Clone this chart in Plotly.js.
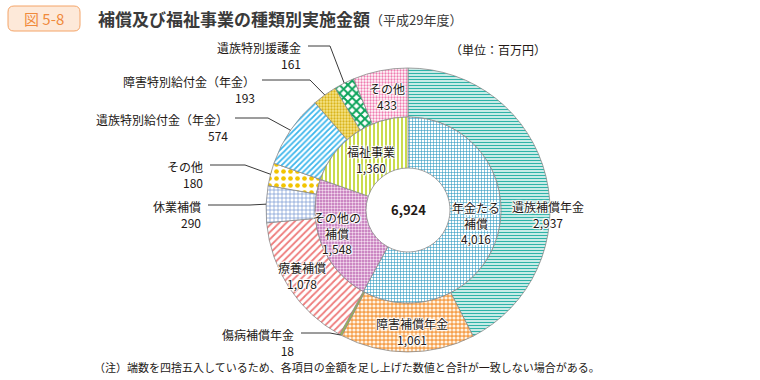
<!DOCTYPE html>
<html><head><meta charset="utf-8">
<script src="https://cdn.plot.ly/plotly-3.0.1.min.js"></script>
<style>html,body{margin:0;padding:0;background:#fff}#c{width:760px;height:380px}</style>
</head><body><div id="c"></div>
<script>
// ---- data ----
const innerLabels = ['年金たる補償', 'その他の補償', '福祉事業'];
const innerValues = [4016, 1548, 1360];
const outerLabels = ['遺族補償年金', '障害補償年金', '傷病補償年金', '療養補償', '休業補償', 'その他', '遺族特別給付金（年金）', '障害特別給付金（年金）', '遺族特別援護金', 'その他 '];
const outerValues = [2937, 1061, 18, 1078, 290, 180, 574, 193, 161, 433];
const totalLabel = '6,924';

// ---- geometry (pixels) ----
const W = 760, H = 380, CX = 408, CY = 210, R_OUT = 142, R_MID = 93, R_HOLE = 42;
const px = x => x / W, py = y => 1 - y / H;

const outerPat = [
  {shape: '-', fgcolor: '#2fb3a8', bgcolor: '#e8f7f5', size: 3, solidity: 0.45},
  {shape: '.', fgcolor: '#fff4e6', bgcolor: '#f6a04c', size: 4, solidity: 0.5},
  {shape: '', fgcolor: '#9bb84a', bgcolor: '#9bb84a', size: 4, solidity: 0.3},
  {shape: '/', fgcolor: '#ee7b7b', bgcolor: '#ffffff', size: 5, solidity: 0.35},
  {shape: '+', fgcolor: '#6f8fd0', bgcolor: '#ffffff', size: 4, solidity: 0.3},
  {shape: '.', fgcolor: '#f2c400', bgcolor: '#ffffff', size: 7, solidity: 0.35},
  {shape: '/', fgcolor: '#3cb6ec', bgcolor: '#ffffff', size: 4, solidity: 0.45},
  {shape: '.', fgcolor: '#d9b41c', bgcolor: '#f6e58a', size: 3, solidity: 0.45},
  {shape: 'x', fgcolor: '#0ba35a', bgcolor: '#ffffff', size: 6, solidity: 0.55},
  {shape: '.', fgcolor: '#f07bb0', bgcolor: '#ffffff', size: 3, solidity: 0.45}
];
const outerColors = ['#ffffff','#f6a04c','#9bb84a','#ffffff','#ffffff','#ffffff','#ffffff','#f6e58a','#ffffff','#ffffff'];
const innerPat = [
  {shape: '+', fgcolor: '#2e9ac0', bgcolor: '#ffffff', size: 3, solidity: 0.35},
  {shape: '.', fgcolor: '#f4dcef', bgcolor: '#bd6ab4', size: 3, solidity: 0.5},
  {shape: '|', fgcolor: '#c4d83a', bgcolor: '#ffffff', size: 4, solidity: 0.45}
];

function patArr(list, key){ return list.map(p => p[key]); }

const outerTrace = {
  type: 'pie', values: outerValues, labels: outerLabels, sort: false,
  direction: 'clockwise', rotation: 0, hole: R_MID / R_OUT,
  textinfo: 'none', hoverinfo: 'label+value', showlegend: false,
  domain: {x: [px(CX - R_OUT), px(CX + R_OUT)], y: [py(CY + R_OUT), py(CY - R_OUT)]},
  marker: {colors: outerColors, line: {color: '#8a8a8a', width: 0.8},
    pattern: {shape: patArr(outerPat,'shape'), fgcolor: patArr(outerPat,'fgcolor'), bgcolor: patArr(outerPat,'bgcolor'), size: patArr(outerPat,'size'), solidity: patArr(outerPat,'solidity'), fillmode: 'replace'}}
};
const innerTrace = {
  type: 'pie', values: innerValues, labels: innerLabels, sort: false,
  direction: 'clockwise', rotation: 0, hole: R_HOLE / R_MID,
  textinfo: 'none', hoverinfo: 'label+value', showlegend: false,
  domain: {x: [px(CX - R_MID), px(CX + R_MID)], y: [py(CY + R_MID), py(CY - R_MID)]},
  marker: {colors: ['#ffffff','#bd6ab4','#ffffff'], line: {color: '#8a8a8a', width: 0.8},
    pattern: {shape: patArr(innerPat,'shape'), fgcolor: patArr(innerPat,'fgcolor'), bgcolor: patArr(innerPat,'bgcolor'), size: patArr(innerPat,'size'), solidity: patArr(innerPat,'solidity'), fillmode: 'replace'}}
};

// anchor on outer edge for slice i
const outerTotal = outerValues.reduce((a,b)=>a+b,0);
function anchor(i){
  let cum = 0; for (let k=0;k<i;k++) cum += outerValues[k];
  const th = 2*Math.PI*(cum + outerValues[i]/2)/outerTotal;
  return [CX + R_OUT*Math.sin(th), CY - R_OUT*Math.cos(th)];
}
const fmt = v => v.toLocaleString('en-US');

const FONT = '"Noto Sans CJK JP", "Noto Sans", sans-serif';
const TXT = '#231815';
const halo = '1px 0 1px #fff, -1px 0 1px #fff, 0 1px 1px #fff, 0 -1px 1px #fff, 1px 1px 1px #fff, -1px -1px 1px #fff';
const F = (extra) => Object.assign({family: FONT, size: 12, color: TXT}, extra||{});

const annotations = [];
const shapes = [];
function ann(text, x, y, opt){
  annotations.push(Object.assign({text, x: px(x), y: py(y), xref:'paper', yref:'paper', showarrow:false,
    font: F(), xanchor:'center', yanchor:'middle'}, opt||{}));
}
// outside labels: [slice index, text right x, name y, elbow x]
const outside = [
  [8, 303, 46, 330],
  [7, 257, 80, 310],
  [6, 230, 118, 268],
  [5, 205, 165, 245],
  [4, 203, 205, 250],
  [2, 296, 333, 330]
];
outside.forEach(([i, rx, y, ex]) => {
  const name = outerLabels[i].trim();
  ann(name + '<br>' + fmt(outerValues[i]), rx, y, {xanchor:'right', yanchor:'top', yshift: 9, align:'right'});
  const [ax, ay] = anchor(i);
  shapes.push({type:'path', xref:'paper', yref:'paper',
    path: `M${px(rx+5)},${py(y)} L${px(ex)},${py(y)} L${px(ax)},${py(ay)}`,
    line:{color:'#3a3a3a', width:1}});
});
// inside labels (first line y given)
const HF = F({shadow: halo});
const insideOuter = [[0, 548, 205], [1, 412, 322], [3, 302, 266], [9, 387, 87]];
insideOuter.forEach(([i,x,y]) => {
  ann(outerLabels[i].trim() + '<br>' + fmt(outerValues[i]), x, y, {yanchor:'top', yshift: 9, font: HF});
});
ann('年金たる<br>補償<br>' + fmt(innerValues[0]), 476, 206, {yanchor:'top', yshift: 9, font: HF});
ann('その他の<br>補償<br>' + fmt(innerValues[1]), 337, 216, {yanchor:'top', yshift: 9, font: HF});
ann(innerLabels[2] + '<br>' + fmt(innerValues[2]), 371, 150, {yanchor:'top', yshift: 9, font: HF});
ann('<b>'+totalLabel+'</b>', 408, 209, {font: F({size: 13})});

// header
shapes.push({type:'path', xref:'paper', yref:'paper', fillcolor:'#fde9d9', line:{color:'#f4a468', width:1},
  path:`M${px(14)},${py(6)} L${px(74)},${py(6)} Q${px(80)},${py(6)} ${px(80)},${py(12)} L${px(80)},${py(25)} Q${px(80)},${py(31)} ${px(74)},${py(31)} L${px(14)},${py(31)} Q${px(8)},${py(31)} ${px(8)},${py(25)} L${px(8)},${py(12)} Q${px(8)},${py(6)} ${px(14)},${py(6)} Z`});
ann('図 5-8', 44, 18, {font: F({size: 15, color:'#f08a3c'})});
ann('<b>補償及び福祉事業の種類別実施金額</b>', 96, 18, {xanchor:'left', font: F({size: 17, color:'#3a3a3a'})});
ann('（平成29年度）', 368, 19, {xanchor:'left', font: F({size: 13, color:'#3a3a3a'})});
ann('（単位：百万円）', 548, 50, {xanchor:'right', font: F()});
ann('（注）端数を四捨五入しているため、各項目の金額を足し上げた数値と合計が一致しない場合がある。', 92, 367, {xanchor:'left', font: F({size: 11})});

Plotly.newPlot('c', [outerTrace, innerTrace], {
  width: W, height: H, margin:{l:0,r:0,t:0,b:0}, paper_bgcolor:'#fff',
  showlegend:false, annotations, shapes
}, {displayModeBar:false, staticPlot:true});
</script></body></html>
